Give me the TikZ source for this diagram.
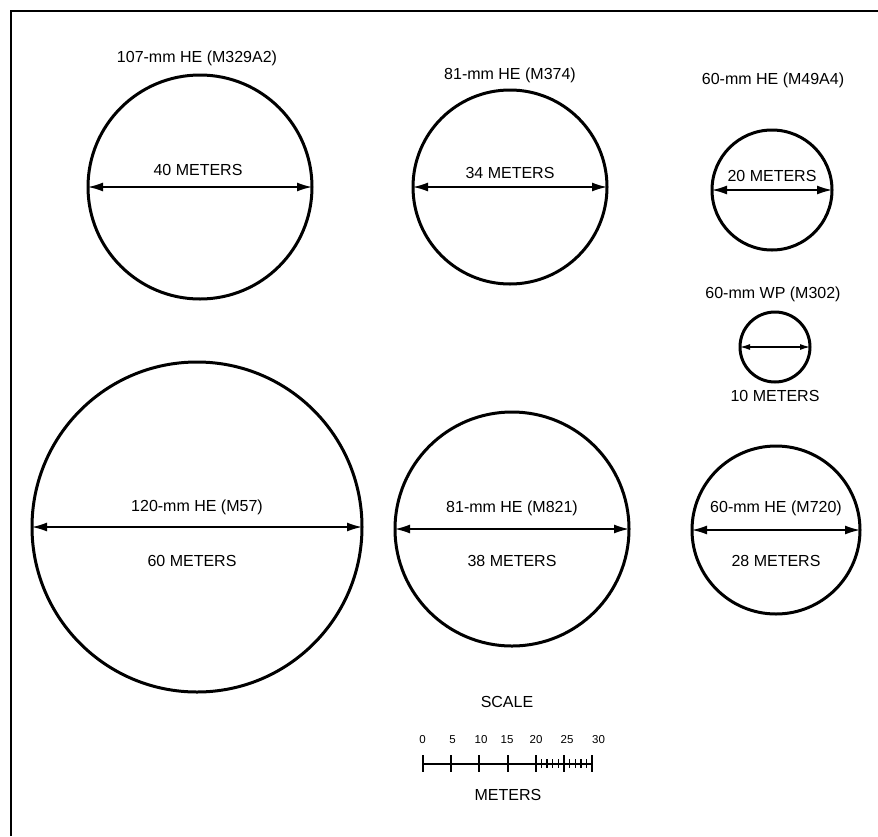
\documentclass[tikz,border=0pt]{standalone}
\usepackage{fontspec}
\setmainfont{Liberation Sans}
\usetikzlibrary{arrows.meta,calc}
\begin{document}
\begin{tikzpicture}[x=1pt,y=-1pt,
 ring/.style={circle,draw,line width=3pt,inner sep=0pt,outer sep=0pt},
 lbl/.style={font=\fontsize{16}{19}\selectfont,inner sep=0pt},
 nlbl/.style={font=\fontsize{11.5}{13}\selectfont,inner sep=0pt},
 dim/.style={line width=1.5pt,{Latex[length=15pt,width=9pt]}-{Latex[length=15pt,width=9pt]}},
 tick/.style={line width=2pt},
]
\useasboundingbox (0,0) rectangle (878,836);
\fill[white] (0,0) rectangle (878,836);
\draw[line width=2pt] (11,836) -- (11,11) -- (878,11);

% 107 mm
\node[ring,minimum size=224pt] (c1) at (200,187) {};
\node[lbl] (t1) at (197,58) {107-mm HE (M329A2)};
\node[lbl] (m1) at (198,170) {40 METERS};
\draw[dim] (c1.west) -- (c1.east);

% 81 mm M374
\node[ring,minimum size=194pt] (c2) at (510,187) {};
\node[lbl] (t2) at (510,75) {81-mm HE (M374)};
\node[lbl] (m2) at (510,173) {34 METERS};
\draw[dim] (c2.west) -- (c2.east);

% 60 mm M49A4
\node[ring,minimum size=120pt] (c3) at (772,190) {};
\node[lbl] (t3) at (773,80) {60-mm HE (M49A4)};
\node[lbl] (m3) at (772,176) {20 METERS};
\draw[dim] (c3.west) -- (c3.east);

% 60 mm WP M302
\node[ring,minimum size=70pt] (c4) at (775,347) {};
\node[lbl] (t4) at (773,294) {60-mm WP (M302)};
\node[lbl] (m4) at (775,396) {10 METERS};
\draw[line width=1.2pt,{Latex[length=10pt,width=6pt]}-{Latex[length=10pt,width=6pt]}] (c4.west) -- (c4.east);

% 120 mm M57
\node[ring,minimum size=330pt] (c5) at (197,527) {};
\node[lbl] (t5) at (197,507) {120-mm HE (M57)};
\node[lbl] (m5) at (192,561) {60 METERS};
\draw[dim] (c5.west) -- (c5.east);

% 81 mm M821
\node[ring,minimum size=234pt] (c6) at (512,529) {};
\node[lbl] (t6) at (512,508) {81-mm HE (M821)};
\node[lbl] (m6) at (512,561) {38 METERS};
\draw[dim] (c6.west) -- (c6.east);

% 60 mm M720
\node[ring,minimum size=168pt] (c7) at (776,530) {};
\node[lbl] (t7) at (776,508) {60-mm HE (M720)};
\node[lbl] (m7) at (776,561) {28 METERS};
\draw[dim] (c7.west) -- (c7.east);

% scale
\node[lbl] (sc) at (507,702) {SCALE};
\node[lbl] (sm) at (508,795) {METERS};
\coordinate (s0) at (422.7,764);
\coordinate (s30) at (592.3,764);
\draw[line width=1.4pt] (s0) -- (s30);
\foreach \i in {0,...,6}{
  \draw[tick] ($(s0)+(\i*28.27,-9)$) -- ($(s0)+(\i*28.27,8)$);
}
\foreach \k/\x in {0/422.5,5/452.5,10/481,15/507,20/536,25/567,30/598.5}{
  \node[nlbl] (n\k) at (\x,740) {\k};
}
\foreach \j in {21,22,23,24,26,27,28,29}{
  \draw[line width=1.5pt] ($(s0)+(\j*5.654,-5)$) -- ($(s0)+(\j*5.654,4)$);
}
\end{tikzpicture}
\end{document}
